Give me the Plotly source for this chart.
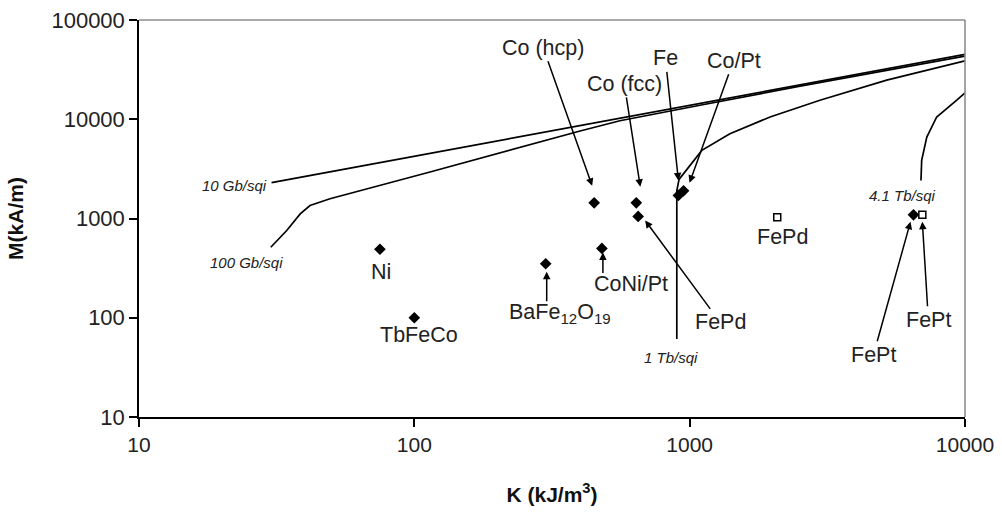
import math
import plotly.graph_objects as go

# ---------------- data ----------------
# density curves (K in kJ/m^3, M in kA/m)
k_10gb = [30.3, 100, 400, 1090, 2518, 10000]
m_10gb = [2297, 4236, 8630, 14490, 22230, 45100]

k_100gb = [30.1, 34.4, 38.5, 41.8, 49.4, 114, 400, 558, 1090, 2518, 10000]
m_100gb = [513, 757, 1114, 1352, 1581, 2940, 7620, 9660, 13840, 21540, 43300]

k_1tb = [898, 898, 915, 1107, 1400, 1959, 2972, 5196, 10000]
m_1tb = [61, 1900, 2480, 4860, 7160, 10540, 15560, 24770, 38800]

k_41tb = [6920, 6960, 7266, 7892, 9333, 10000]
m_41tb = [2420, 3853, 6620, 10540, 15560, 18450]

curve_names = ["10 Gb/sqi", "100 Gb/sqi", "1 Tb/sqi", "4.1 Tb/sqi"]

# materials (filled diamonds)
mat_names = ["Ni", "TbFeCo", "BaFe<sub>12</sub>O<sub>19</sub>", "CoNi/Pt", "Co (hcp)",
             "Co (fcc)", "FePd", "Fe", "Co/Pt", "FePt"]
mat_k = [75, 100, 300, 480, 450, 640, 650, 910, 950, 6500]
mat_m = [490, 100, 350, 500, 1440, 1440, 1050, 1710, 1900, 1090]

# materials (open squares)
sq_names = ["FePd", "FePt"]
sq_k = [2080, 7000]
sq_m = [1030, 1090]

x_ticks = [10, 100, 1000, 10000]
y_ticks = [10, 100, 1000, 10000, 100000]

FONT = "Liberation Sans, Arial, sans-serif"

fig = go.Figure()
line_style = dict(color="black", width=1.7)
for kk, mm, nm in [(k_10gb, m_10gb, curve_names[0]), (k_100gb, m_100gb, curve_names[1]),
                   (k_1tb, m_1tb, curve_names[2]), (k_41tb, m_41tb, curve_names[3])]:
    fig.add_trace(go.Scatter(x=kk, y=mm, mode="lines", line=line_style, name=nm,
                             showlegend=False, hoverinfo="skip"))

fig.add_trace(go.Scatter(x=mat_k, y=mat_m, mode="markers", showlegend=False,
                         marker=dict(symbol="diamond", size=9, color="black"),
                         text=mat_names, hoverinfo="text"))
fig.add_trace(go.Scatter(x=sq_k, y=sq_m, mode="markers", showlegend=False,
                         marker=dict(symbol="square", size=7, color="white",
                                     line=dict(color="black", width=1.5)),
                         text=sq_names, hoverinfo="text"))

L = math.log10
label_font = dict(family=FONT, size=21.5, color="#222")
italic_font = dict(family=FONT, size=15, color="#222")
arrow_style = dict(arrowhead=2, arrowsize=1, arrowwidth=1.5, arrowcolor="black")

# labels without arrows: offsets (pixels) of the text centre from the marker
plain_labels = {0: (1, -23), 1: (5, -17), 2: (14, -50), 3: (29, -36)}
# labels with arrows: (tip xshift, tip yshift from marker, text centre ax, ay from tip)
arrow_labels = {
    4: (-2, 17, -49, -138), 5: (4, 16, -16, -103), 6: (7, -4, 75, 102),
    7: (0, 15, -13, -122), 8: (6, 8, 44, -122), 9: (-3, -7, -37, 133),
}
# short arrows drawn separately (tip shift, tail ax, ay)
short_arrows = {2: (1, -8, 0, 31), 3: (1, -4, 0, 22)}

sq_plain = {0: (5, -20)}
sq_arrow_labels = {1: (0, -7, 6, 98)}

ann = []
for i, (dx, dy) in plain_labels.items():
    ann.append(dict(x=L(mat_k[i]), y=L(mat_m[i]), text=mat_names[i], showarrow=False,
                    xshift=dx, yshift=dy, font=label_font))
for i, (dx, dy, ax, ay) in arrow_labels.items():
    ann.append(dict(x=L(mat_k[i]), y=L(mat_m[i]), text=mat_names[i], showarrow=True,
                    xshift=dx, yshift=dy, ax=ax, ay=ay, font=label_font, **arrow_style))
for i, (dx, dy, ax, ay) in short_arrows.items():
    ann.append(dict(x=L(mat_k[i]), y=L(mat_m[i]), text="", showarrow=True,
                    xshift=dx, yshift=dy, ax=ax, ay=ay, **arrow_style))
for i, (dx, dy) in sq_plain.items():
    ann.append(dict(x=L(sq_k[i]), y=L(sq_m[i]), text=sq_names[i], showarrow=False,
                    xshift=dx, yshift=dy, font=label_font))
for i, (dx, dy, ax, ay) in sq_arrow_labels.items():
    ann.append(dict(x=L(sq_k[i]), y=L(sq_m[i]), text=sq_names[i], showarrow=True,
                    xshift=dx, yshift=dy, ax=ax, ay=ay, font=label_font, **arrow_style))

# curve labels
ann.append(dict(x=L(k_10gb[0]), y=L(m_10gb[0]), text="<i>" + curve_names[0] + "</i>",
                showarrow=False, xanchor="right", xshift=-3, yshift=-3, font=italic_font))
ann.append(dict(x=L(k_100gb[0]), y=L(m_100gb[0]), text="<i>" + curve_names[1] + "</i>",
                showarrow=False, xshift=-24, yshift=-15, font=italic_font))
ann.append(dict(x=L(k_1tb[0]), y=L(m_1tb[0]), text="<i>" + curve_names[2] + "</i>",
                showarrow=False, xshift=-6, yshift=-18, font=italic_font))
ann.append(dict(x=L(k_41tb[0]), y=L(m_41tb[0]), text="<i>" + curve_names[3] + "</i>",
                showarrow=False, xshift=-18, yshift=-15, font=italic_font))

border = dict(color="#8c8c8c", width=1.6)
frame_axis = dict(type="log", showline=True, linecolor="#8c8c8c", linewidth=1.6,
                  showticklabels=False, ticks="", showgrid=False, zeroline=False,
                  automargin=False)
fig.update_layout(
    width=1002, height=514,
    margin=dict(l=139, r=37, t=20, b=97),
    paper_bgcolor="white", plot_bgcolor="white",
    font=dict(family=FONT, size=22, color="#222"),
    annotations=ann,
    xaxis2=dict(overlaying="x", side="top", anchor="y", range=[1, 4], **frame_axis),
    yaxis2=dict(overlaying="y", side="right", anchor="x", range=[1, 5], **frame_axis),
    shapes=[
        dict(type="line", xref="paper", yref="paper", x0=0, x1=1, y0=1, y1=1,
             line=border, layer="above"),
        dict(type="line", xref="paper", yref="paper", x0=1, x1=1, y0=0, y1=1,
             line=border, layer="above"),
    ],
)
fig.update_xaxes(selector=dict(side="bottom"))
fig.layout.xaxis.update(type="log", range=[1, 4], tickvals=x_ticks, automargin=False,
                 ticktext=[str(v) for v in x_ticks], showgrid=False, zeroline=False,
                 showline=True, linecolor="black", linewidth=1.5, ticks="outside",
                 ticklen=8, tickcolor="black", tickwidth=1.5,
                 tickfont=dict(family=FONT, size=21, color="#222"),
                 title=dict(text="<b>K (kJ/m<sup>3</sup>)</b>", standoff=32,
                            font=dict(family=FONT, size=21, color="#111")))
fig.layout.yaxis.update(type="log", range=[1, 5], tickvals=y_ticks, automargin=False,
                 ticktext=[str(v) for v in y_ticks], showgrid=False, zeroline=False,
                 showline=True, linecolor="black", linewidth=1.5, ticks="outside",
                 ticklen=8, tickcolor="black", tickwidth=1.5,
                 tickfont=dict(family=FONT, size=22, color="#222"),
                 title=dict(text="<b>M(kA/m)</b>", standoff=22,
                            font=dict(family=FONT, size=21, color="#111")))

fig.write_html("out.html", config={"displayModeBar": False},
               post_script="document.body.style.margin='0px';")
